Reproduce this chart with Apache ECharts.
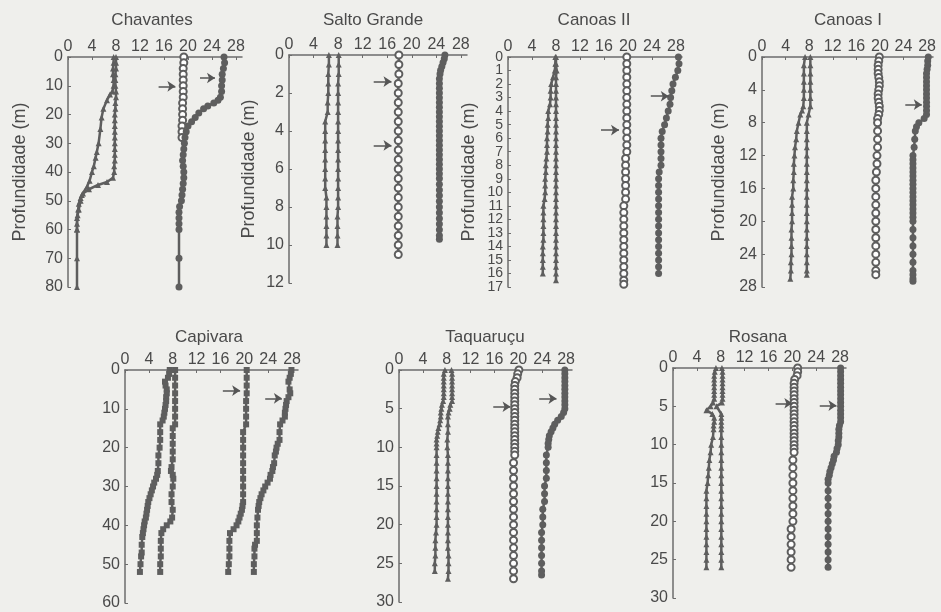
<!DOCTYPE html>
<html>
<head>
<meta charset="utf-8">
<script src="https://cdn.jsdelivr.net/npm/echarts@6/dist/echarts.min.js"></script>
<style>
  html, body { margin: 0; padding: 0; background: #efefec; }
  #chart-container { width: 941px; height: 612px; }
</style>
</head>
<body>
<div id="chart-container"></div>
<script>
// values are [reading, depth in m]; arrows are [depth, from, to]
var xTicks = [0, 4, 8, 12, 16, 20, 24, 28];
// Canoas II depth labels, split in two sets so that none gets dropped
var c2DepthEven = [0, 2, 4, 6, 8, 10, 12, 14, 16];
var c2DepthOdd = [1, 3, 5, 7, 9, 11, 13, 15, 17];

// Chavantes
var chavTriA = [[7.6,0],[7.6,2],[7.5,4],[7.5,6],[7.6,8],[7.6,10],[7.4,12],[7.0,13],[6.5,15],[5.9,18],[5.6,21],[5.4,25],[5.1,30],[4.8,33],[4.6,35],[4.3,38],[4.0,40],[3.6,43],[3.2,45],[2.3,48],[2.1,50],[1.8,53],[1.6,55],[1.5,58],[1.5,60],[1.5,70],[1.5,80]];
var chavTriB = [[8.0,0],[8.0,2],[8.0,4],[7.9,6],[7.9,8],[7.9,10],[8.0,12],[8.0,14],[7.9,16],[7.9,18],[7.8,20],[7.8,22],[7.8,24],[7.8,26],[7.8,28],[7.8,30],[7.8,32],[7.8,34],[7.8,36],[7.7,38],[7.7,40],[7.5,42],[6.5,43.5],[5.0,44.5],[3.5,46],[2.5,47.5],[2.1,49],[1.8,51],[1.7,53],[1.5,56],[1.5,60]];
var chavOpen = [[19.3,0],[19.3,2],[19.2,4],[19.2,6],[19.2,8],[19.2,10],[19.2,12],[19.2,14],[19.1,16],[19.1,18],[19.1,20],[19.1,22],[19.0,24],[19.0,26],[19.0,28]];
var chavFilled = [[26.0,0],[26.1,2],[25.9,4],[25.7,6],[25.7,8],[25.6,10],[25.6,12],[25.4,14],[25.0,15],[24.3,16],[23.3,17],[22.6,18],[21.8,19.5],[21.2,21],[20.6,22.5],[20.0,24],[19.7,26],[19.5,28],[19.4,30],[19.3,32],[19.2,34],[19.1,36],[19.2,38],[19.3,40],[19.3,42],[19.2,44],[19.1,46],[19.0,48],[18.9,50],[18.6,52],[18.5,54],[18.5,56],[18.5,58],[18.5,60],[18.5,70],[18.5,80]];
var chavArrows = [[10.2,15.1,17.9],[7.3,22.0,24.5]];

// Salto Grande
var sgTriA = [[6.5,0],[6.5,0.5],[6.4,1],[6.4,1.5],[6.4,2],[6.3,2.5],[6.3,3],[5.9,3.5],[5.9,4],[5.9,4.5],[5.9,5],[5.9,5.5],[5.9,6],[5.9,6.5],[5.9,7],[6.1,7.5],[6.1,8],[6.1,8.5],[6.1,9],[6.1,9.5],[6.1,10]];
var sgTriB = [[8.1,0],[8.1,0.5],[8.1,1],[8.0,1.5],[8.0,2],[8.0,2.5],[8.0,3],[8.0,3.5],[8.0,4],[8.0,4.5],[8.0,5],[8.0,5.5],[8.0,6],[8.0,6.5],[8.0,7],[8.0,7.5],[8.0,8],[7.9,8.5],[7.9,9],[7.9,9.5],[7.9,10]];
var sgOpen = [[17.9,0],[17.9,0.5],[17.9,1],[17.8,1.5],[17.8,2],[17.8,2.5],[17.8,3],[17.8,3.5],[17.8,4],[17.8,4.5],[17.8,5],[17.8,5.5],[17.8,6],[17.8,6.5],[17.8,7],[17.8,7.5],[17.8,8],[17.8,8.5],[17.8,9],[17.8,9.5],[17.8,10],[17.8,10.5]];
var sgFilled = [[25.4,0],[25.3,0.2],[25.1,0.4],[24.9,0.6],[24.7,0.8],[24.6,1.0],[24.5,1.25],[24.5,1.5],[24.5,1.75],[24.5,2],[24.5,2.25],[24.5,2.5],[24.5,2.75],[24.5,3],[24.5,3.25],[24.5,3.5],[24.5,3.75],[24.5,4],[24.5,4.25],[24.5,4.5],[24.5,4.75],[24.5,5],[24.5,5.25],[24.5,5.5],[24.5,5.75],[24.5,6],[24.5,6.25],[24.5,6.5],[24.5,6.8],[24.5,7.1],[24.5,7.4],[24.5,7.7],[24.5,8.0],[24.5,8.3],[24.5,8.6],[24.5,8.9],[24.5,9.2],[24.5,9.5],[24.5,9.7]];
var sgArrows = [[1.4,13.8,16.7],[4.76,13.8,16.7]];

// Canoas II
var c2TriA = [[7.9,0],[7.9,0.5],[7.8,1],[7.5,1.5],[7.2,2],[7.1,2.5],[7.1,3],[7.0,3.5],[6.7,4],[6.7,4.5],[6.6,5],[6.6,5.5],[6.5,6],[6.5,6.5],[6.5,7],[6.4,7.5],[6.3,8],[6.3,8.5],[6.2,9],[6.2,9.5],[6.2,10],[6.1,10.5],[5.9,11],[5.9,11.5],[5.9,12],[5.9,12.5],[5.9,13],[5.9,13.5],[5.8,14],[5.8,14.5],[5.8,15],[5.8,15.5],[5.8,16]];
var c2TriB = [[8.0,0],[8.0,0.5],[8.1,1],[8.0,1.5],[8.0,2],[8.0,2.5],[8.0,3],[8.0,3.5],[8.0,4],[8.0,4.5],[8.0,5],[8.0,5.5],[8.0,6],[8.0,6.5],[8.0,7],[8.0,7.5],[8.0,8],[8.0,8.5],[8.0,9],[8.0,9.5],[8.0,10],[8.0,10.5],[8.0,11],[8.0,11.5],[8.0,12],[8.0,12.5],[8.0,13],[8.0,13.5],[8.0,14],[8.0,14.5],[8.0,15],[8.0,15.5],[8.0,16],[8.0,16.5]];
var c2Open = [[19.8,0],[19.8,0.5],[19.8,1],[19.8,1.5],[19.8,2],[19.8,2.5],[19.8,3],[19.8,3.5],[19.8,4],[19.8,4.5],[19.8,5],[19.8,5.5],[19.8,6],[19.8,6.5],[19.8,7],[19.6,7.5],[19.6,8],[19.6,8.5],[19.6,9],[19.6,9.5],[19.6,10],[19.6,10.5],[19.3,11],[19.3,11.5],[19.3,12],[19.3,12.5],[19.3,13],[19.3,13.5],[19.3,14],[19.3,14.5],[19.3,15],[19.3,15.5],[19.3,16],[19.3,16.5],[19.3,16.8]];
var c2Filled = [[28.4,0],[28.5,0.5],[28.3,1],[27.9,1.5],[27.5,2],[27.3,2.5],[27.1,3],[27.0,3.5],[26.7,4],[26.4,4.5],[26.1,5],[25.7,5.5],[25.5,6],[25.5,6.5],[25.5,7],[25.5,7.5],[25.5,8],[25.2,8.5],[25.1,9],[25.1,9.5],[25.1,10],[25.1,10.5],[25.1,11],[25.1,11.5],[25.1,12],[25.1,12.5],[25.1,13],[25.1,13.5],[25.1,14],[25.1,14.5],[25.1,15],[25.1,15.5],[25.1,16]];
var c2Arrows = [[2.9,23.8,26.8],[5.4,15.5,18.5]];

// Canoas I
var c1TriA = [[7.3,0],[7.1,1],[7.1,2],[7.1,3],[7.1,4],[7.1,5],[7.0,6],[6.8,6.5],[6.5,7],[6.2,8],[5.9,9],[5.8,10],[5.6,11],[5.5,12],[5.4,13],[5.4,14],[5.3,15],[5.3,16],[5.1,17],[5.1,18],[5.1,19],[5.1,20],[5.0,21],[5.0,22],[5.0,23],[5.0,24],[4.9,25],[4.9,26],[4.8,27]];
var c1TriB = [[8.2,0],[8.2,1],[8.2,2],[8.2,3],[8.2,4],[8.2,5],[8.2,6],[7.9,7],[7.6,8],[7.6,9],[7.6,10],[7.6,11],[7.6,12],[7.6,13],[7.6,14],[7.6,15],[7.6,16],[7.6,17],[7.6,18],[7.6,19],[7.6,20],[7.6,21],[7.6,22],[7.6,23],[7.6,24],[7.6,25],[7.6,26],[7.6,26.5]];
var c1Open = [[19.9,0],[19.8,0.5],[19.7,1],[19.7,1.5],[19.7,2],[19.8,2.5],[19.9,3],[19.9,3.5],[19.8,4],[19.7,4.5],[19.7,5],[19.8,5.5],[19.9,6],[19.9,6.5],[19.8,7],[19.6,7.5],[19.6,8],[19.6,9],[19.6,10],[19.6,11],[19.5,12],[19.5,13],[19.4,14],[19.3,15],[19.3,16],[19.3,17],[19.3,18],[19.3,19],[19.3,20],[19.3,21],[19.3,22],[19.3,23],[19.3,24],[19.3,25],[19.3,26],[19.3,26.5]];
var c1Filled = [[28.2,0],[28.1,0.5],[28.1,1],[28.0,1.5],[27.9,2],[27.9,2.5],[27.9,3],[27.9,3.5],[27.9,4],[27.9,4.5],[27.9,5],[27.9,5.5],[27.9,6],[27.9,6.5],[27.9,7],[27.5,7.5],[26.6,8],[26.2,8.5],[26.0,9],[25.9,10],[25.8,11],[25.6,12],[25.6,12.5],[25.6,13],[25.6,13.5],[25.6,14],[25.6,14.5],[25.6,15],[25.6,15.5],[25.6,16],[25.6,16.5],[25.6,17],[25.6,17.5],[25.6,18],[25.6,18.5],[25.6,19],[25.6,19.5],[25.6,20],[25.6,21],[25.6,22],[25.6,23],[25.6,24],[25.6,25],[25.6,26],[25.6,26.5],[25.6,27],[25.6,27.3]];
var c1Arrows = [[5.8,24.3,27.1]];

// Capivara
var capA = [[7.5,0],[7.4,1],[7.2,2],[6.7,3],[6.8,4],[7.0,5],[7.0,6],[6.9,7],[6.9,8],[6.8,9],[6.7,10],[6.6,11],[6.5,12],[6.3,13],[5.9,14],[5.9,16],[5.9,18],[5.8,20],[5.6,22],[5.6,24],[5.5,26],[5.4,27],[5.2,28],[4.9,29],[4.7,30],[4.5,31],[4.3,32],[4.1,33],[3.9,34],[3.8,35],[3.7,36],[3.6,37],[3.5,38],[3.3,39],[3.2,40],[3.1,41],[3.0,42],[2.9,43],[2.8,45],[2.8,47],[2.7,48],[2.6,50],[2.5,52]];
var capB = [[8.4,0],[8.4,2],[8.4,4],[8.4,6],[8.4,8],[8.4,10],[8.4,12],[8.4,14],[8.0,15],[8.0,17],[8.0,19],[8.0,21],[8.0,23],[7.8,25],[7.7,26],[8.0,27],[8.1,28],[8.0,30],[7.8,32],[7.8,34],[8.0,36],[7.9,38],[7.6,39],[7.0,40],[6.4,41],[6.1,42],[6.0,44],[6.0,46],[6.0,48],[5.9,50],[5.9,52]];
var capC = [[20.4,0],[20.4,2],[20.4,4],[20.4,6],[20.3,8],[20.3,10],[20.3,12],[20.3,14],[19.8,16],[19.8,18],[19.8,20],[19.8,22],[19.8,24],[19.8,26],[19.8,28],[19.8,30],[19.8,32],[19.8,34],[19.7,35],[19.6,36],[19.4,37],[19.2,38],[19.0,39],[18.7,40],[18.2,41],[17.6,42],[17.5,44],[17.5,46],[17.5,48],[17.4,50],[17.3,52]];
var capD = [[27.9,0],[27.8,1],[27.6,2],[27.4,3],[27.6,5],[27.7,6],[27.4,7],[27.1,8],[27.0,9],[26.9,10],[26.8,11],[26.8,12],[26.4,13],[26.0,14],[25.9,16],[25.9,18],[25.6,19],[25.4,20],[25.3,21],[25.1,22],[25.0,24],[24.8,25],[24.7,26],[24.4,27],[24.3,28],[23.9,29],[23.5,30],[23.2,31],[22.9,32],[22.7,33],[22.5,34],[22.4,35],[22.3,36],[22.2,38],[22.1,40],[22.1,42],[22.1,44],[21.8,45],[21.7,46],[21.7,48],[21.6,50],[21.6,52]];
var capArrows = [[5.3,16.4,19.3],[7.3,23.5,26.3]];

// Taquarucu
var tqTriA = [[7.7,0],[7.5,0.5],[7.5,1],[7.5,1.5],[7.5,2],[7.5,2.5],[7.5,3],[7.5,3.5],[7.4,4],[7.2,4.5],[7.1,5],[7.0,5.5],[7.0,6],[6.9,6.5],[6.8,7],[6.6,7.5],[6.5,8],[6.4,8.5],[6.3,9],[6.3,9.5],[6.3,10],[6.3,11],[6.3,12],[6.3,13],[6.3,14],[6.3,15],[6.3,16],[6.3,17],[6.3,18],[6.3,19],[6.3,20],[6.2,21],[6.1,22],[6.1,23],[6.1,24],[6.0,25],[6.0,26]];
var tqTriB = [[8.8,0],[8.9,0.5],[8.9,1],[8.9,1.5],[8.9,2],[8.9,2.5],[8.9,3],[8.9,3.5],[8.9,4],[8.6,4.5],[8.5,5],[8.3,5.5],[8.2,6],[8.2,7],[8.2,8],[8.1,9],[8.1,10],[8.2,11],[8.2,12],[8.2,13],[8.2,14],[8.2,15],[8.2,16],[8.2,17],[8.2,18],[8.2,19],[8.2,20],[8.2,21],[8.2,22],[8.2,23],[8.3,24],[8.3,25],[8.3,26],[8.2,27]];
var tqOpen = [[20.1,0],[19.9,0.5],[19.8,1],[19.5,1.5],[19.4,2],[19.4,2.5],[19.4,3],[19.4,3.5],[19.4,4],[19.4,4.5],[19.4,5],[19.4,5.5],[19.4,6],[19.4,6.5],[19.4,7],[19.4,7.5],[19.4,8],[19.4,8.5],[19.4,9],[19.4,9.5],[19.4,10],[19.4,10.5],[19.4,11],[19.2,12],[19.2,13],[19.2,14],[19.2,15],[19.2,16],[19.2,17],[19.2,18],[19.2,19],[19.2,20],[19.2,21],[19.2,22],[19.2,23],[19.2,24],[19.2,25],[19.2,26],[19.2,27]];
var tqFilled = [[27.8,0],[27.8,0.5],[27.8,1],[27.8,1.5],[27.8,2],[27.8,2.5],[27.8,3],[27.8,3.5],[27.8,4],[27.8,4.5],[27.8,5],[27.6,5.5],[27.2,6],[26.6,6.5],[26.1,7],[25.8,7.5],[25.5,8],[25.2,8.5],[25.1,9],[25.0,9.5],[25.0,10],[24.7,11],[24.7,12],[24.7,13],[24.7,14],[24.4,15],[24.4,16],[24.4,17],[24.1,18],[24.1,19],[24.1,20],[23.9,21],[23.9,22],[23.9,23],[23.9,24],[23.9,25],[23.9,26],[23.9,26.5]];
var tqArrows = [[4.75,15.8,18.7],[3.7,23.5,26.4]];

// Rosana
var rsTriA = [[7.2,0],[7.0,0.5],[6.9,1],[6.9,1.5],[6.9,2],[6.9,2.5],[6.9,3],[6.9,3.5],[6.9,4],[6.7,4.5],[6.3,5],[5.6,5.5],[6.6,6],[6.9,6.5],[6.9,7],[6.8,7.5],[6.8,8],[6.7,9],[6.4,10],[6.3,11],[6.1,12],[6.0,13],[5.9,14],[5.8,15],[5.6,16],[5.6,17],[5.6,18],[5.6,19],[5.6,20],[5.6,21],[5.6,22],[5.6,23],[5.6,24],[5.6,25],[5.6,26]];
var rsTriB = [[8.2,0],[8.3,0.5],[8.3,1],[8.3,1.5],[8.3,2],[8.3,2.5],[8.3,3],[8.3,3.5],[8.3,4],[8.2,4.5],[7.3,5],[8.1,6],[8.1,6.5],[8.1,7],[8.1,7.5],[8.1,8],[8.1,9],[8.1,10],[8.1,11],[8.1,12],[8.1,13],[8.1,14],[8.1,15],[8.1,16],[8.1,17],[8.1,18],[8.1,19],[8.1,20],[8.1,21],[8.1,22],[8.1,23],[8.1,24],[8.1,25],[8.1,26]];
var rsOpen = [[20.9,0],[20.9,0.5],[20.8,1],[20.4,1.5],[20.3,2],[20.3,2.5],[20.3,3],[20.3,3.5],[20.3,4],[20.3,4.5],[20.3,5],[20.3,5.5],[20.3,6],[20.3,6.5],[20.3,7],[20.3,7.5],[20.3,8],[20.3,8.5],[20.3,9],[20.3,9.5],[20.3,10],[20.3,10.5],[20.3,11],[20.1,12],[20.1,13],[20.1,14],[20.1,15],[20.1,16],[20.1,17],[20.1,18],[20.1,19],[20.1,20],[19.8,21],[19.8,22],[19.8,23],[19.8,24],[19.8,25],[19.8,26]];
var rsFilled = [[28.1,0],[28.1,0.5],[28.1,1],[28.1,1.5],[28.1,2],[28.1,2.5],[28.1,3],[28.1,3.5],[28.1,4],[28.1,4.5],[28.1,5],[28.1,5.5],[28.1,6],[28.1,6.5],[28.1,7],[27.9,7.5],[27.8,8],[27.8,8.5],[27.8,9],[27.7,9.5],[27.7,10],[27.5,10.5],[27.4,11],[27.0,11.5],[26.9,12],[26.7,12.5],[26.5,13],[26.3,13.5],[26.2,14],[26.0,14.5],[26.0,15],[26.0,16],[26.0,17],[26.0,18],[26.0,19],[26.0,20],[26.0,21],[26.0,22],[26.0,23],[26.0,24],[26.0,25],[26.0,26]];
var rsArrows = [[4.6,17.2,20.0],[4.9,24.6,27.4]];

var ink = '#5e5e5e';
var textColor = '#4a4a4a';
var axisColor = '#6c6c6c';
var font = '"Liberation Sans", Arial, sans-serif';
var profileMarks = ['triangle', 'triangle', 'emptyCircle', 'circle'];
var squareMarks = ['rect', 'rect', 'rect', 'rect'];
var markSize = { triangle: 6, emptyCircle: 7, circle: 7, rect: 6 };

var panels = [
  { name: 'Chavantes', series: [chavTriA, chavTriB, chavOpen, chavFilled], arrows: chavArrows, ymax: 80, ystep: 10, box: [68, 57, 174, 230], titleX: 152, titleY: 12, nameGap: 39 },
  { name: 'Salto Grande', series: [sgTriA, sgTriB, sgOpen, sgFilled], arrows: sgArrows, ymax: 12, ystep: 2, box: [289, 55, 178, 228], titleX: 373, titleY: 12, nameGap: 31 },
  { name: 'Canoas II', series: [c2TriA, c2TriB, c2Open, c2Filled], arrows: c2Arrows, ymax: 17, ystep: 1, box: [508, 57, 174, 230], titleX: 594, titleY: 12, nameGap: 30, yFont: 14, yLabelSets: [c2DepthEven, c2DepthOdd] },
  { name: 'Canoas I', series: [c1TriA, c1TriB, c1Open, c1Filled], arrows: c1Arrows, ymax: 28, ystep: 4, box: [762, 57, 171, 230], titleX: 848, titleY: 12, nameGap: 34 },
  { name: 'Capivara', series: [capA, capB, capC, capD], arrows: capArrows, ymax: 60, ystep: 10, box: [125, 370, 173, 233], titleX: 209, titleY: 329, marks: squareMarks },
  { name: 'Taquaruçu', series: [tqTriA, tqTriB, tqOpen, tqFilled], arrows: tqArrows, ymax: 30, ystep: 5, box: [399, 370, 173, 232], titleX: 485, titleY: 329 },
  { name: 'Rosana', series: [rsTriA, rsTriB, rsOpen, rsFilled], arrows: rsArrows, ymax: 30, ystep: 5, box: [673, 368, 173, 230], titleX: 758, titleY: 329 }
];

var titles = [], grids = [], xAxes = [], yAxes = [], series = [];

function depthAxis(p, i, labels, withName) {
  var ax = {
    gridIndex: i, type: 'value', position: 'left', offset: 0, inverse: true, min: 0, max: p.ymax, interval: p.ystep,
    name: withName && p.nameGap ? 'Profundidade (m)' : '', nameLocation: 'middle', nameGap: p.nameGap || 0, nameRotate: 90,
    nameTextStyle: { fontSize: 18, color: textColor, fontFamily: font },
    axisLine: { show: withName, onZero: false, lineStyle: { color: axisColor, width: 1.5 } },
    axisTick: { show: withName, inside: true, length: 3, lineStyle: { color: axisColor } },
    axisLabel: { margin: 5, fontSize: p.yFont || 16, color: textColor, fontFamily: font, showMinLabel: true, showMaxLabel: true },
    splitLine: { show: false }
  };
  if (labels) ax.axisLabel.customValues = labels;
  return ax;
}

panels.forEach(function (p, i) {
  var marks = p.marks || profileMarks;
  titles.push({
    text: p.name, left: p.titleX, top: p.titleY, textAlign: 'center', padding: 0,
    textStyle: { fontSize: 17, fontWeight: 'normal', color: textColor, fontFamily: font }
  });
  grids.push({ left: p.box[0], top: p.box[1], width: p.box[2], height: p.box[3] });
  xAxes.push({
    gridIndex: i, type: 'value', position: 'top', min: 0, max: 29, interval: 4,
    axisLine: { onZero: false, lineStyle: { color: axisColor, width: 1.5 } },
    axisTick: { show: true, inside: true, length: 3, customValues: xTicks, lineStyle: { color: axisColor } },
    axisLabel: {
      margin: 2, fontSize: 16, color: textColor, fontFamily: font, customValues: xTicks,
      formatter: function (v) { return v % 4 === 0 ? String(v) : ''; }
    },
    splitLine: { show: false }
  });
  var yIndex = yAxes.length;
  if (p.yLabelSets) {
    yAxes.push(depthAxis(p, i, p.yLabelSets[0], true));
    yAxes.push(depthAxis(p, i, p.yLabelSets[1], false));
  } else {
    yAxes.push(depthAxis(p, i, null, true));
  }
  p.series.forEach(function (d, k) {
    var s = {
      type: 'line', xAxisIndex: i, yAxisIndex: yIndex, data: d,
      symbol: marks[k], symbolSize: markSize[marks[k]],
      showSymbol: true, showAllSymbol: true,
      lineStyle: { color: ink, width: 2.5 },
      itemStyle: { color: ink, borderColor: ink, borderWidth: marks[k] === 'emptyCircle' ? 1.5 : 0 },
      emphasis: { disabled: true },
      animation: false
    };
    if (k === 2) {
      s.markLine = {
        silent: true, symbol: ['none', 'arrow'], symbolSize: 8, animation: false,
        label: { show: false },
        lineStyle: { color: '#555', width: 1.5, type: 'solid' },
        data: p.arrows.map(function (a) { return [{ coord: [a[1], a[0]] }, { coord: [a[2], a[0]] }]; })
      };
    }
    series.push(s);
  });
});

var myChart = echarts.init(document.getElementById('chart-container'), null, { renderer: 'canvas' });
var option = {
  backgroundColor: '#efefec',
  animation: false,
  title: titles,
  grid: grids,
  xAxis: xAxes,
  yAxis: yAxes,
  series: series
};
myChart.setOption(option);
window.addEventListener('resize', myChart.resize);
</script>
</body>
</html>
